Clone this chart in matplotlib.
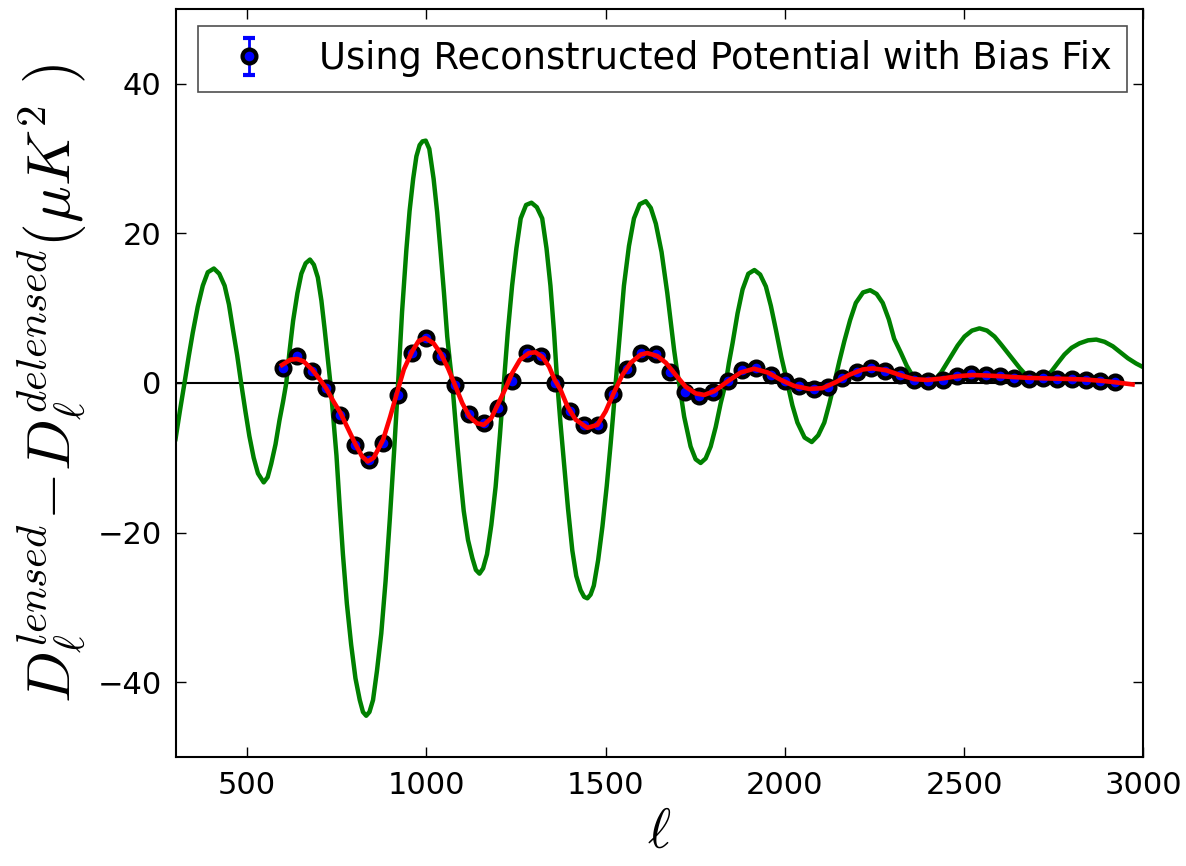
import matplotlib
matplotlib.use("Agg")
import matplotlib.pyplot as plt

# --- données ---
# points reconstruits (ell, Delta D_ell)
ell_pts = list(range(600, 2921, 40))
d_pts = [2.0, 3.6, 1.6, -0.7, -4.3, -8.3, -10.3, -8.0, -1.6, 4.0,
         6.0, 3.6, -0.3, -4.2, -5.4, -3.4, 0.2, 4.0, 3.6, 0.0,
         -3.7, -5.6, -5.6, -1.5, 1.9, 4.0, 3.9, 1.5, -1.2, -1.8,
         -1.2, 0.2, 1.7, 2.0, 1.1, 0.2, -0.4, -0.8, -0.5, 0.6,
         1.5, 2.0, 1.6, 1.1, 0.35, 0.2, 0.45, 0.9, 1.2, 1.07,
         0.93, 0.62, 0.49, 0.62, 0.49, 0.49, 0.4, 0.31, 0.18]
err_pts = 0.4

# courbe rouge (ajustement lisse)
ell_red = [597, 620, 639, 657, 681, 699, 720, 741, 760, 780, 800, 820, 836, 853,
           879, 899, 918, 937, 960, 978, 997, 1020, 1039, 1060, 1079, 1100, 1120,
           1141, 1160, 1181, 1199, 1221, 1239, 1261, 1286, 1304, 1323, 1342, 1358,
           1374, 1393, 1416, 1449, 1477, 1500, 1523, 1547, 1570, 1598, 1616, 1644,
           1668, 1695, 1723, 1751, 1775, 1803, 1840, 1877, 1914, 1952, 1989, 2026,
           2068, 2105, 2142, 2180, 2217, 2245, 2282, 2319, 2361, 2398, 2440, 2482,
           2524, 2560, 2600, 2640, 2680, 2720, 2760, 2800, 2840, 2880, 2920, 2970]
d_red = [2.4, 3.1, 3.2, 2.9, 1.8, 0.7, -0.7, -2.5, -4.0, -6.0, -8.0, -9.8, -10.5, -10.0,
         -7.6, -4.5, -1.3, 1.8, 4.2, 5.6, 6.0, 5.3, 4.0, 2.0, -0.2, -2.7, -4.5,
         -5.4, -5.6, -4.7, -2.9, -0.7, 1.3, 3.1, 4.0, 4.1, 3.5, 2.2, 0.4,
         -0.9, -3.1, -4.9, -6.0, -5.6, -3.8, -1.3, 1.1, 2.7, 3.8, 4.0, 3.6,
         2.7, 1.1, -0.5, -1.4, -1.6, -1.1, 0.2, 1.4, 1.9, 1.4, 0.4, -0.4,
         -0.8, -0.7, 0.1, 1.1, 1.8, 1.95, 1.7, 1.1, 0.5, 0.4, 0.6, 0.9,
         1.06, 1.0, 0.9, 0.78, 0.68, 0.62, 0.57, 0.52, 0.45, 0.3, 0.1, -0.2]

# courbe verte (théorie)
ell_green = [300, 312, 325, 337, 348, 362, 376, 390, 407, 422, 437, 449, 460, 472,
             483, 495, 506, 518, 530, 546, 557, 567, 579, 590, 600, 609, 618, 628,
             640, 651, 663, 675, 686, 697, 707, 716, 724, 732, 740, 749, 758, 767,
             778, 790, 802, 814, 823, 832, 841, 851, 862, 874, 886, 898, 910, 921,
             932, 944, 953, 963, 972, 981, 989, 998, 1008, 1020, 1030, 1039, 1049,
             1058, 1065, 1072, 1079, 1086, 1095, 1104, 1116, 1128, 1138, 1148, 1158,
             1169, 1181, 1193, 1205, 1216, 1227, 1239, 1251, 1263, 1278, 1293, 1308,
             1323, 1335, 1346, 1356, 1365, 1374, 1384, 1395, 1407, 1418, 1430, 1440,
             1449, 1458, 1467, 1479, 1491, 1503, 1514, 1521, 1528, 1540, 1551, 1565,
             1579, 1595, 1612, 1626, 1640, 1656, 1672, 1691, 1698, 1705, 1719, 1737,
             1751, 1765, 1779, 1793, 1807, 1821, 1835, 1844, 1854, 1868, 1882, 1898,
             1915, 1931, 1947, 1961, 1975, 1990, 2007, 2021, 2035, 2055, 2075, 2093,
             2110, 2124, 2138, 2152, 2166, 2182, 2198, 2218, 2238, 2256, 2273, 2290,
             2305, 2324, 2340, 2357, 2378, 2398, 2418, 2436, 2450, 2464, 2482, 2501,
             2522, 2543, 2564, 2585, 2604, 2622, 2640, 2655, 2670, 2688, 2705, 2724,
             2743, 2762, 2780, 2800, 2822, 2846, 2869, 2892, 2915, 2936, 2957, 2980,
             3004]
d_green = [-7.5, -3.8, 0.0, 3.6, 6.7, 10.2, 13.0, 14.8, 15.3, 14.6, 13.0, 10.5, 7.2, 3.7,
           0.0, -3.8, -7.1, -10.0, -12.1, -13.3, -12.6, -10.8, -8.2, -5.0, -2.5, 0.0, 4.2, 8.3,
           12.0, 14.6, 16.0, 16.5, 15.8, 14.1, 11.0, 7.2, 3.6, 0.0, -4.5, -9.7, -16.5, -22.9,
           -29.5, -35.0, -39.5, -42.4, -44.0, -44.5, -44.0, -42.4, -38.5, -33.5, -26.5, -18.1, -9.0, 0.0,
           9.5, 17.8, 23.0, 27.3, 30.3, 31.8, 32.3, 32.4, 31.3, 27.3, 22.8, 17.8, 12.0,
           6.2, 3.0, 0.0, -4.0, -8.1, -12.8, -17.1, -21.0, -23.4, -25.0, -25.5, -24.8,
           -22.9, -19.0, -13.9, -7.0, 0.0, 6.8, 13.0, 18.0, 22.0, 23.8, 24.1, 23.5,
           22.0, 18.0, 13.0, 6.8, 0.0, -5.4, -10.8, -16.8, -22.4, -25.8, -27.7, -28.6,
           -28.8, -28.3, -27.1, -23.7, -19.2, -13.8, -8.1, -4.2, 0.0, 6.8, 13.0, 18.3,
           22.0, 23.9, 24.3, 23.4, 21.3, 17.5, 12.0, 4.4, 2.0, 0.0, -4.5, -8.5,
           -10.2, -10.7, -10.1, -8.5, -5.9, -2.7, 0.0, 2.7, 5.3, 9.3, 12.5, 14.6,
           15.1, 14.5, 12.9, 10.3, 7.1, 3.5, 0.0, -3.0, -5.3, -7.3, -7.9, -7.0,
           -5.3, -2.8, 0.0, 2.9, 5.6, 8.4, 10.7, 12.1, 12.4, 11.9, 10.7, 8.5,
           5.9, 4.0, 2.3, 0.9, 0.2, 0.0, 0.4, 1.4, 2.5, 3.6, 5.0, 6.2,
           7.0, 7.3, 7.0, 6.2, 5.1, 4.0, 2.9, 2.0, 1.2, 0.6, 0.4, 0.7,
           1.5, 2.7, 3.8, 4.7, 5.3, 5.7, 5.8, 5.5, 4.9, 4.1, 3.3, 2.6,
           2.0]

plt.rcParams['mathtext.fontset'] = 'cm'
plt.rcParams['font.family'] = 'DejaVu Sans'

fig = plt.figure(figsize=(11.86, 8.66), dpi=100)
ax = fig.add_axes([0.148, 0.126, 0.816, 0.8636])

ax.axhline(0, color='black', linewidth=1.5, zorder=1)
ax.plot(ell_green, d_green, color='green', linewidth=3.2, zorder=2)
ax.errorbar(ell_pts, d_pts, yerr=err_pts, fmt='o', color='blue', ecolor='blue',
            markerfacecolor='blue', markeredgecolor='black', markersize=10,
            markeredgewidth=3.0, elinewidth=2, capsize=4.5, capthick=2,
            label='Using Reconstructed Potential with Bias Fix', zorder=3)
ax.plot(ell_red, d_red, color='red', linewidth=3.3, zorder=4)

ax.set_xlim(300, 3000)
ax.set_ylim(-50, 50)
ax.set_xticks([500, 1000, 1500, 2000, 2500, 3000])
ax.set_yticks([-40, -20, 0, 20, 40])
ax.tick_params(direction='in', top=True, right=True, length=7, width=1,
               labelsize=22, pad=10)
for s in ax.spines.values():
    s.set_linewidth(1.5)

ax.set_xlabel(r'$\ell$', fontsize=40, labelpad=4)
ax.set_ylabel(r'$D_\ell^{lensed}\!-\!D_\ell^{delensed}(\mu K^2\ )$', fontsize=44, labelpad=6)

leg = ax.legend(loc='upper right', numpoints=1, fontsize=26.5, fancybox=False,
                handletextpad=0.9, borderpad=0.4, borderaxespad=0.45)
leg.get_frame().set_edgecolor('#222222')
leg.get_frame().set_linewidth(1.2)

fig.savefig('out.png', dpi=100)
